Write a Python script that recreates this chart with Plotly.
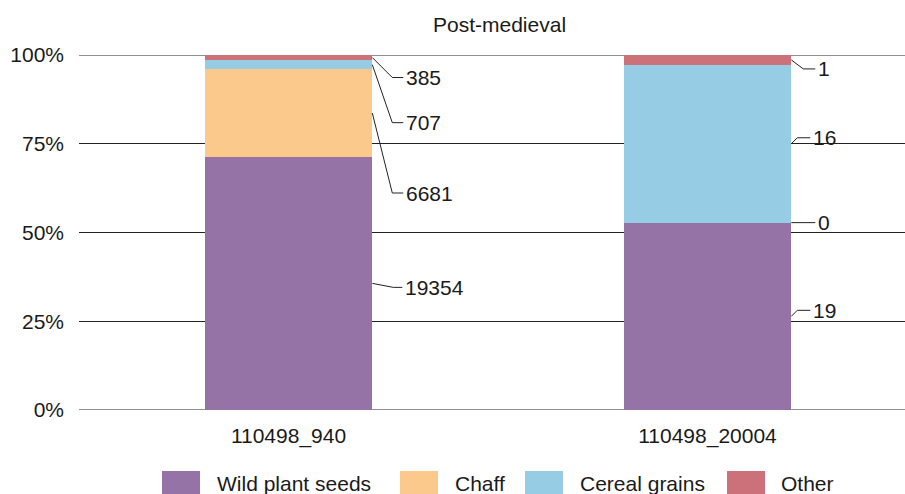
import plotly.graph_objects as go

# ---------------- data ----------------
categories = ["110498_940", "110498_20004"]
series_names = ["Wild plant seeds", "Chaff", "Cereal grains", "Other"]
wild_plant_seeds = [19354, 19]
chaff = [6681, 0]
cereal_grains = [707, 16]
other = [385, 1]
y_tick_values = [0, 25, 50, 75, 100]
y_tick_labels = ["0%", "25%", "50%", "75%", "100%"]
chart_title = "Post-medieval"

# ---------------- style ----------------
series_values = [wild_plant_seeds, chaff, cereal_grains, other]
colors = ["#9673A6", "#FCC98C", "#96CDE4", "#CC707A"]
FONT = "Liberation Sans, Arial, sans-serif"
FS = 21
TXT = "#1a1a1a"

W, H = 905, 494
ML, MR, MT, MB = 79, 0, 55, 84
PW, PH = W - ML - MR, H - MT - MB
BAR_W = 0.4
X0 = -0.5
PX_PER_X = 419.0
X1 = X0 + PW / PX_PER_X
PX_PER_PCT = PH / 100.0

# leader line offsets per series, per bar: (label dy px, elbow dx px, end dx px)
leader_style = [
    [(4, 21, 30), (-6, 6, 19)],
    [(80, 20, 31), (0, 0, 24)],
    [(58, 20, 31), (-6, 6, 19)],
    [(20, 20, 31), (9, 12, 24)],
]
# legend: (square left px, text left px)
legend_px = [(162, 215), (400, 453), (525, 578), (727, 779)]
LEG_SQ_W, LEG_SQ_TOP, LEG_SQ_BOT, LEG_TXT_Y = 38, 471, 498, 483


def px2paper_x(px):
    return (px - ML) / PW


def px2paper_y(py):
    return (MT + PH - py) / PH


totals = [sum(s[i] for s in series_values) for i in range(len(categories))]
pcts = [[v / totals[i] * 100 for i, v in enumerate(s)] for s in series_values]

fig = go.Figure()
xpos = list(range(len(categories)))
for name, p, c in zip(series_names, pcts, colors):
    fig.add_trace(go.Bar(x=xpos, y=p, width=BAR_W, name=name, marker=dict(color=c, line=dict(width=0)),
                         showlegend=False, hoverinfo="name+y"))

annotations = []
cum = [0.0] * len(categories)
for si, (s, p) in enumerate(zip(series_values, pcts)):
    for i in range(len(categories)):
        anchor_y = cum[i] + p[i] / 2
        cum[i] += p[i]
        dy, ex, en = leader_style[si][i]
        ly = anchor_y - dy / PX_PER_PCT
        bx = i + BAR_W / 2
        fig.add_trace(go.Scatter(
            x=[bx, bx + ex / PX_PER_X, bx + en / PX_PER_X],
            y=[anchor_y, ly, ly], mode="lines",
            line=dict(color="#222222", width=1), showlegend=False, hoverinfo="skip"))
        annotations.append(dict(x=bx + (en + 1) / PX_PER_X, y=ly, xref="x", yref="y",
                                text=str(s[i]), showarrow=False, xanchor="left", yanchor="middle",
                                font=dict(size=FS, color=TXT, family=FONT)))

annotations.append(dict(x=px2paper_x(499), y=px2paper_y(25), xref="paper", yref="paper",
                        text=chart_title, showarrow=False, xanchor="center", yanchor="middle",
                        font=dict(size=FS, color=TXT, family=FONT)))

shapes = []
# edge gridlines (0% and 100%) that plotly omits at the range ends
for v in (y_tick_values[0], y_tick_values[-1]):
    shapes.append(dict(type="line", xref="paper", yref="y", x0=0, x1=1, y0=v, y1=v,
                       line=dict(color="#222222", width=1), layer="below"))
for (sq, tx), name, c in zip(legend_px, series_names, colors):
    shapes.append(dict(type="rect", xref="paper", yref="paper",
                       x0=px2paper_x(sq), x1=px2paper_x(sq + LEG_SQ_W),
                       y0=px2paper_y(LEG_SQ_BOT), y1=px2paper_y(LEG_SQ_TOP),
                       fillcolor=c, line=dict(width=0)))
    annotations.append(dict(x=px2paper_x(tx), y=px2paper_y(LEG_TXT_Y), xref="paper", yref="paper",
                            text=name, showarrow=False, xanchor="left", yanchor="middle",
                            font=dict(size=FS, color=TXT, family=FONT)))

fig.update_layout(
    width=W, height=H, margin=dict(l=ML, r=MR, t=MT, b=MB, pad=0),
    barmode="stack", bargap=0,
    paper_bgcolor="white", plot_bgcolor="white",
    font=dict(family=FONT, size=FS, color=TXT),
    annotations=annotations, shapes=shapes, showlegend=False,
    xaxis=dict(range=[X0, X1], tickvals=xpos, ticktext=categories, showgrid=False,
               zeroline=False, showline=False, ticks="", ticklabelstandoff=11,
               tickfont=dict(size=FS, color=TXT, family=FONT), fixedrange=True),
    yaxis=dict(range=[0, 100], tickvals=y_tick_values, ticktext=y_tick_labels,
               showgrid=True, gridcolor="#222222", gridwidth=1, zeroline=False,
               showline=False, ticks="", ticklabelstandoff=14,
               tickfont=dict(size=FS, color=TXT, family=FONT), fixedrange=True),
)

fig.write_html("out.html", config={"displayModeBar": False},
               post_script="document.body.style.margin='0';document.body.style.overflow='hidden';")
